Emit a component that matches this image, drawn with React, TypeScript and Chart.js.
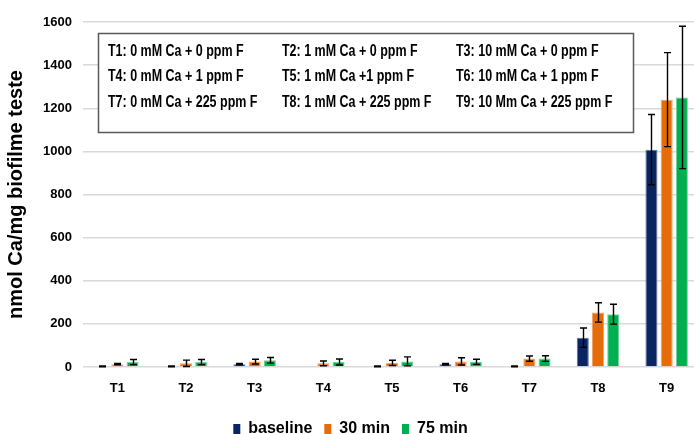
import React, { useEffect, useRef } from "react";
import { Chart, registerables } from "chart.js";

Chart.register(...registerables);

const categories = ["T1", "T2", "T3", "T4", "T5", "T6", "T7", "T8", "T9"];
const seriesNames = ["baseline", "30 min", "75 min"];
const baselineValues = [3, 3, 13, 0, 3, 13, 3, 136, 1008];
const min30Values = [13, 17, 25, 17, 19, 26, 39, 253, 1240];
const min75Values = [23, 23, 31, 23, 26, 24, 39, 245, 1250];
const baselineErrors = [2, 2, 3, 0, 2, 3, 2, 45, 163];
const min30Errors = [3, 15, 11, 11, 12, 17, 12, 45, 218];
const min75Errors = [12, 12, 13, 14, 21, 12, 13, 46, 330];
const yTickValues = [0, 200, 400, 600, 800, 1000, 1200, 1400, 1600];
const treatmentNotes = [
  "T1: 0 mM Ca + 0 ppm F",
  "T2: 1 mM Ca + 0 ppm F",
  "T3: 10 mM Ca + 0 ppm F",
  "T4: 0 mM Ca + 1 ppm F",
  "T5: 1 mM Ca +1 ppm F",
  "T6: 10 mM Ca + 1 ppm F",
  "T7: 0 mM Ca + 225 ppm F",
  "T8: 1 mM Ca + 225 ppm F",
  "T9: 10 Mm Ca + 225 ppm F",
];
const yTitle = "nmol Ca/mg biofilme teste";

const SANS = "'Liberation Sans', Arial, sans-serif";

const fillColors = ["#0b2462", "#e46c0a", "#00b050"];
const edgeColors = ["#5d6f9c", "#f2a466", "#6fd49a"];

const errorBarPlugin = {
  id: "errorBars",
  afterDatasetsDraw(chart: any) {
    const ctx = chart.ctx;
    const yScale = chart.scales.y;
    const errs = [baselineErrors, min30Errors, min75Errors];
    ctx.save();
    ctx.strokeStyle = "#000";
    ctx.lineWidth = 1.4;
    chart.data.datasets.forEach((ds: any, i: number) => {
      const meta = chart.getDatasetMeta(i);
      meta.data.forEach((el: any, j: number) => {
        const v = ds.data[j];
        const e = errs[i][j];
        if (!e) return;
        const x = Math.round(el.x) + 0.5;
        const yt = yScale.getPixelForValue(v + e);
        const yb = yScale.getPixelForValue(Math.max(0, v - e));
        const cap = 3.5;
        ctx.beginPath();
        ctx.moveTo(x, yt);
        ctx.lineTo(x, yb);
        ctx.moveTo(x - cap, yt);
        ctx.lineTo(x + cap, yt);
        ctx.moveTo(x - cap, yb);
        ctx.lineTo(x + cap, yb);
        ctx.stroke();
      });
    });
    ctx.restore();
  },
};

const noteBoxPlugin = {
  id: "noteBox",
  afterDraw(chart: any) {
    const ctx = chart.ctx;
    const box = { x: 98.5, y: 33.5, w: 535, h: 99 };
    const colX = [108, 282, 456];
    const rowY = [51.5, 77, 102.5];
    ctx.save();
    ctx.fillStyle = "#ffffff";
    ctx.fillRect(box.x, box.y, box.w, box.h);
    ctx.strokeStyle = "#595959";
    ctx.lineWidth = 1.5;
    ctx.strokeRect(box.x, box.y, box.w, box.h);
    ctx.fillStyle = "#000";
    ctx.font = `bold 16px ${SANS}`;
    ctx.textBaseline = "middle";
    ctx.textAlign = "left";
    treatmentNotes.forEach((t, k) => {
      ctx.save();
      ctx.translate(colX[k % 3], rowY[Math.floor(k / 3)]);
      ctx.scale(0.78, 1);
      ctx.fillText(t, 0, 0);
      ctx.restore();
    });
    ctx.restore();
  },
};

export default function App() {
  const ref = useRef<HTMLCanvasElement | null>(null);
  useEffect(() => {
    if (!ref.current) return;
    const seriesValues = [baselineValues, min30Values, min75Values];
    const chart = new Chart(ref.current, {
      type: "bar",
      data: {
        labels: categories,
        datasets: seriesNames.map((name, i) => ({
          label: name,
          data: seriesValues[i],
          backgroundColor: fillColors[i],
          borderColor: edgeColors[i],
          borderWidth: 1,
          categoryPercentage: 0.665,
          barPercentage: 0.79,
        })),
      },
      options: {
        animation: false,
        responsive: false,
        layout: { padding: { top: 22, right: 1, left: 0, bottom: 0 } },
        plugins: {
          tooltip: { enabled: false },
          legend: {
            position: "bottom",
            labels: {
              boxWidth: 7,
              boxHeight: 10,
              padding: 12,
              color: "#000",
              font: { family: SANS, size: 16, weight: "bold" },
              generateLabels: (c: any) =>
                Chart.defaults.plugins.legend.labels.generateLabels(c).map((it: any) => ({
                  ...it,
                  strokeStyle: it.fillStyle,
                  lineWidth: 0,
                })),
            },
          },
        },
        scales: {
          x: {
            grid: { display: false, drawTicks: false },
            border: { display: false },
            ticks: {
              color: "#000",
              padding: 14,
              font: { family: SANS, size: 13, weight: "bold" },
            },
            afterFit: (s: any) => {
              s.height = 42;
            },
          },
          y: {
            min: 0,
            max: 1600,
            afterBuildTicks: (s: any) => {
              s.ticks = yTickValues.map((v) => ({ value: v }));
            },
            grid: { color: "#d9d9d9", lineWidth: 1.5, drawTicks: false },
            border: { display: false },
            ticks: {
              color: "#000",
              padding: 11,
              font: { family: SANS, size: 13, weight: "bold" },
              callback: (v: any) => String(v),
            },
            title: {
              display: true,
              text: yTitle,
              color: "#000",
              font: { family: SANS, size: 20, weight: "bold" },
              padding: { top: 4, bottom: 0 },
            },
            afterFit: (s: any) => {
              s.width = 83;
            },
          },
        },
      },
      plugins: [errorBarPlugin, noteBoxPlugin],
    } as any);
    return () => chart.destroy();
  }, []);

  return (
    <div
      style={{
        position: "fixed",
        left: 0,
        top: 0,
        width: 694,
        height: 434,
        overflow: "hidden",
        background: "#fff",
      }}
    >
      <canvas ref={ref} width={702} height={447} style={{ display: "block", width: 702, height: 447 }} />
    </div>
  );
}
